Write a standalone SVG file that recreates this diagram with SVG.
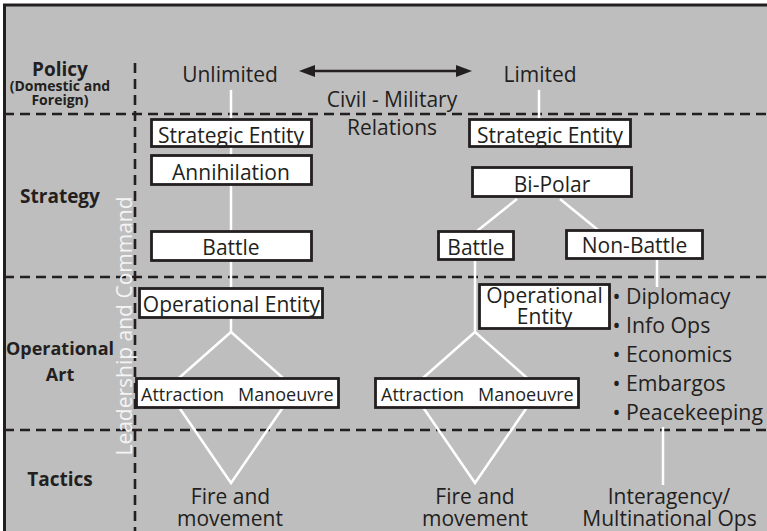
<svg xmlns="http://www.w3.org/2000/svg" width="767" height="531" viewBox="0 0 767 531">
<style>
text{font-family:"Open Sans","Noto Sans","Liberation Sans",sans-serif;fill:#231f20}
.lbl{font-weight:bold;text-anchor:middle}
.t{text-anchor:middle;font-size:21px}
.box{fill:#ffffff;stroke:#231f20;stroke-width:2.8}
.dash{stroke:#231f20;stroke-width:2.6;stroke-dasharray:10 6;fill:none}
.wl{stroke:#ffffff;stroke-width:2.5;fill:none}
.bl{font-size:21.3px}
</style>
<defs>
<marker id="ah" viewBox="0 0 16 12" markerWidth="16" markerHeight="12" markerUnits="userSpaceOnUse" refX="10" refY="6" orient="auto-start-reverse">
<path d="M0,0 L16,6 L0,12 Z" fill="#231f20"/>
</marker>
</defs>
<rect x="4.5" y="5" width="770" height="540" fill="#bebebe" stroke="#231f20" stroke-width="3"/>

<g id="grid">
<line class="dash" x1="4" y1="114" x2="767" y2="114"/>
<line class="dash" x1="4" y1="277" x2="767" y2="277"/>
<line class="dash" x1="4" y1="430" x2="767" y2="430"/>
<line class="dash" x1="135" y1="63" x2="135" y2="531"/>
</g>

<g id="levels">
<text class="lbl" x="60" y="76" font-size="19">Policy</text>
<text class="lbl" x="60" y="91" font-size="14">(Domestic and</text>
<text class="lbl" x="60" y="105" font-size="14">Foreign)</text>
<text class="lbl" x="60" y="203" font-size="19">Strategy</text>
<text class="lbl" x="60" y="355" font-size="18">Operational</text>
<text class="lbl" x="60" y="381" font-size="18">Art</text>
<text class="lbl" x="60" y="486" font-size="19">Tactics</text>
</g>

<g id="connectors">
<line class="wl" x1="231" y1="90" x2="231" y2="332"/>
<polyline class="wl" points="171,385 231,332 291,385"/>
<polyline class="wl" points="174,400 231,483 288,400"/>
<line class="wl" x1="539" y1="90" x2="539" y2="120"/>
<line class="wl" x1="517" y1="199" x2="477" y2="231"/>
<line class="wl" x1="560" y1="199" x2="598" y2="230"/>
<line class="wl" x1="475" y1="261" x2="475" y2="332"/>
<polyline class="wl" points="415,385 475,332 535,385"/>
<polyline class="wl" points="418,400 475,483 532,400"/>
<line class="wl" x1="657" y1="260" x2="657" y2="287"/>
<line class="wl" x1="663" y1="427" x2="663" y2="485"/>
<line x1="305" y1="71" x2="466" y2="71" stroke="#231f20" stroke-width="2.5" marker-start="url(#ah)" marker-end="url(#ah)"/>
</g>

<g id="policy-scale">
<text class="t" x="230" y="82" font-size="21.3">Unlimited</text>
<text class="t" x="540" y="82" font-size="21.3">Limited</text>
<text class="t" x="392" y="107">Civil - Military</text>
<text class="t" x="392" y="135">Relations</text>
</g>

<g id="strategic-entity-left"><rect class="box" x="151.5" y="119.5" width="160" height="27"/><text class="t" x="231" y="143" font-size="21.5">Strategic Entity</text></g>
<g id="annihilation"><rect class="box" x="151.5" y="155.5" width="160" height="29"/><text class="t" x="231" y="180">Annihilation</text></g>
<g id="battle-left"><rect class="box" x="151.5" y="231.5" width="160" height="29"/><text class="t" x="231" y="255" font-size="20.5">Battle</text></g>
<g id="operational-entity-left"><rect class="box" x="139.5" y="288.5" width="183" height="29"/><text class="t" x="231.5" y="312" font-size="20.4">Operational Entity</text></g>
<g id="attraction-left"><rect class="box" x="136.5" y="378.5" width="202" height="29"/><text x="141" y="401" font-size="18">Attraction</text><text x="238" y="401" font-size="18">Manoeuvre</text></g>

<g id="strategic-entity-right"><rect class="box" x="469.5" y="119.5" width="161" height="27"/><text class="t" x="550" y="143" font-size="21.5">Strategic Entity</text></g>
<g id="bi-polar"><rect class="box" x="472.5" y="167.5" width="159" height="29"/><text class="t" x="552" y="192">Bi-Polar</text></g>
<g id="battle-right"><rect class="box" x="438.5" y="231.5" width="75" height="28"/><text class="t" x="476" y="255" font-size="20.3">Battle</text></g>
<g id="non-battle"><rect class="box" x="566.5" y="230.5" width="136" height="28"/><text class="t" x="634.5" y="253">Non-Battle</text></g>
<g id="operational-entity-right"><rect class="box" x="479.5" y="284.5" width="130" height="44"/><text class="t" x="544.5" y="303" font-size="20.2">Operational</text><text class="t" x="544.5" y="324">Entity</text></g>
<g id="attraction-right"><rect class="box" x="375.5" y="378.5" width="203" height="29"/><text x="381" y="401" font-size="18">Attraction</text><text x="478" y="401" font-size="18">Manoeuvre</text></g>

<g id="non-battle-list">
<text class="bl" x="612.5" y="304">• Diplomacy</text>
<text class="bl" x="612.5" y="333">• Info Ops</text>
<text class="bl" x="612.5" y="362">• Economics</text>
<text class="bl" x="612.5" y="391">• Embargos</text>
<text class="bl" x="612.5" y="420">• Peacekeeping</text>
</g>

<g id="tactics-left"><text class="t" x="230.5" y="504" font-size="20">Fire and</text><text class="t" x="230" y="526" font-size="20.5">movement</text></g>
<g id="tactics-mid"><text class="t" x="475" y="504" font-size="20">Fire and</text><text class="t" x="475" y="526" font-size="20.5">movement</text></g>
<g id="tactics-right"><text class="t" x="669" y="504" font-size="21.4">Interagency/</text><text class="t" x="669.5" y="526" font-size="21.3">Multinational Ops</text></g>

<g id="leadership"><text transform="translate(132,326) rotate(-90)" text-anchor="middle" font-size="21" style="fill:#f4f4f4">Leadership and Command</text></g>
</svg>
